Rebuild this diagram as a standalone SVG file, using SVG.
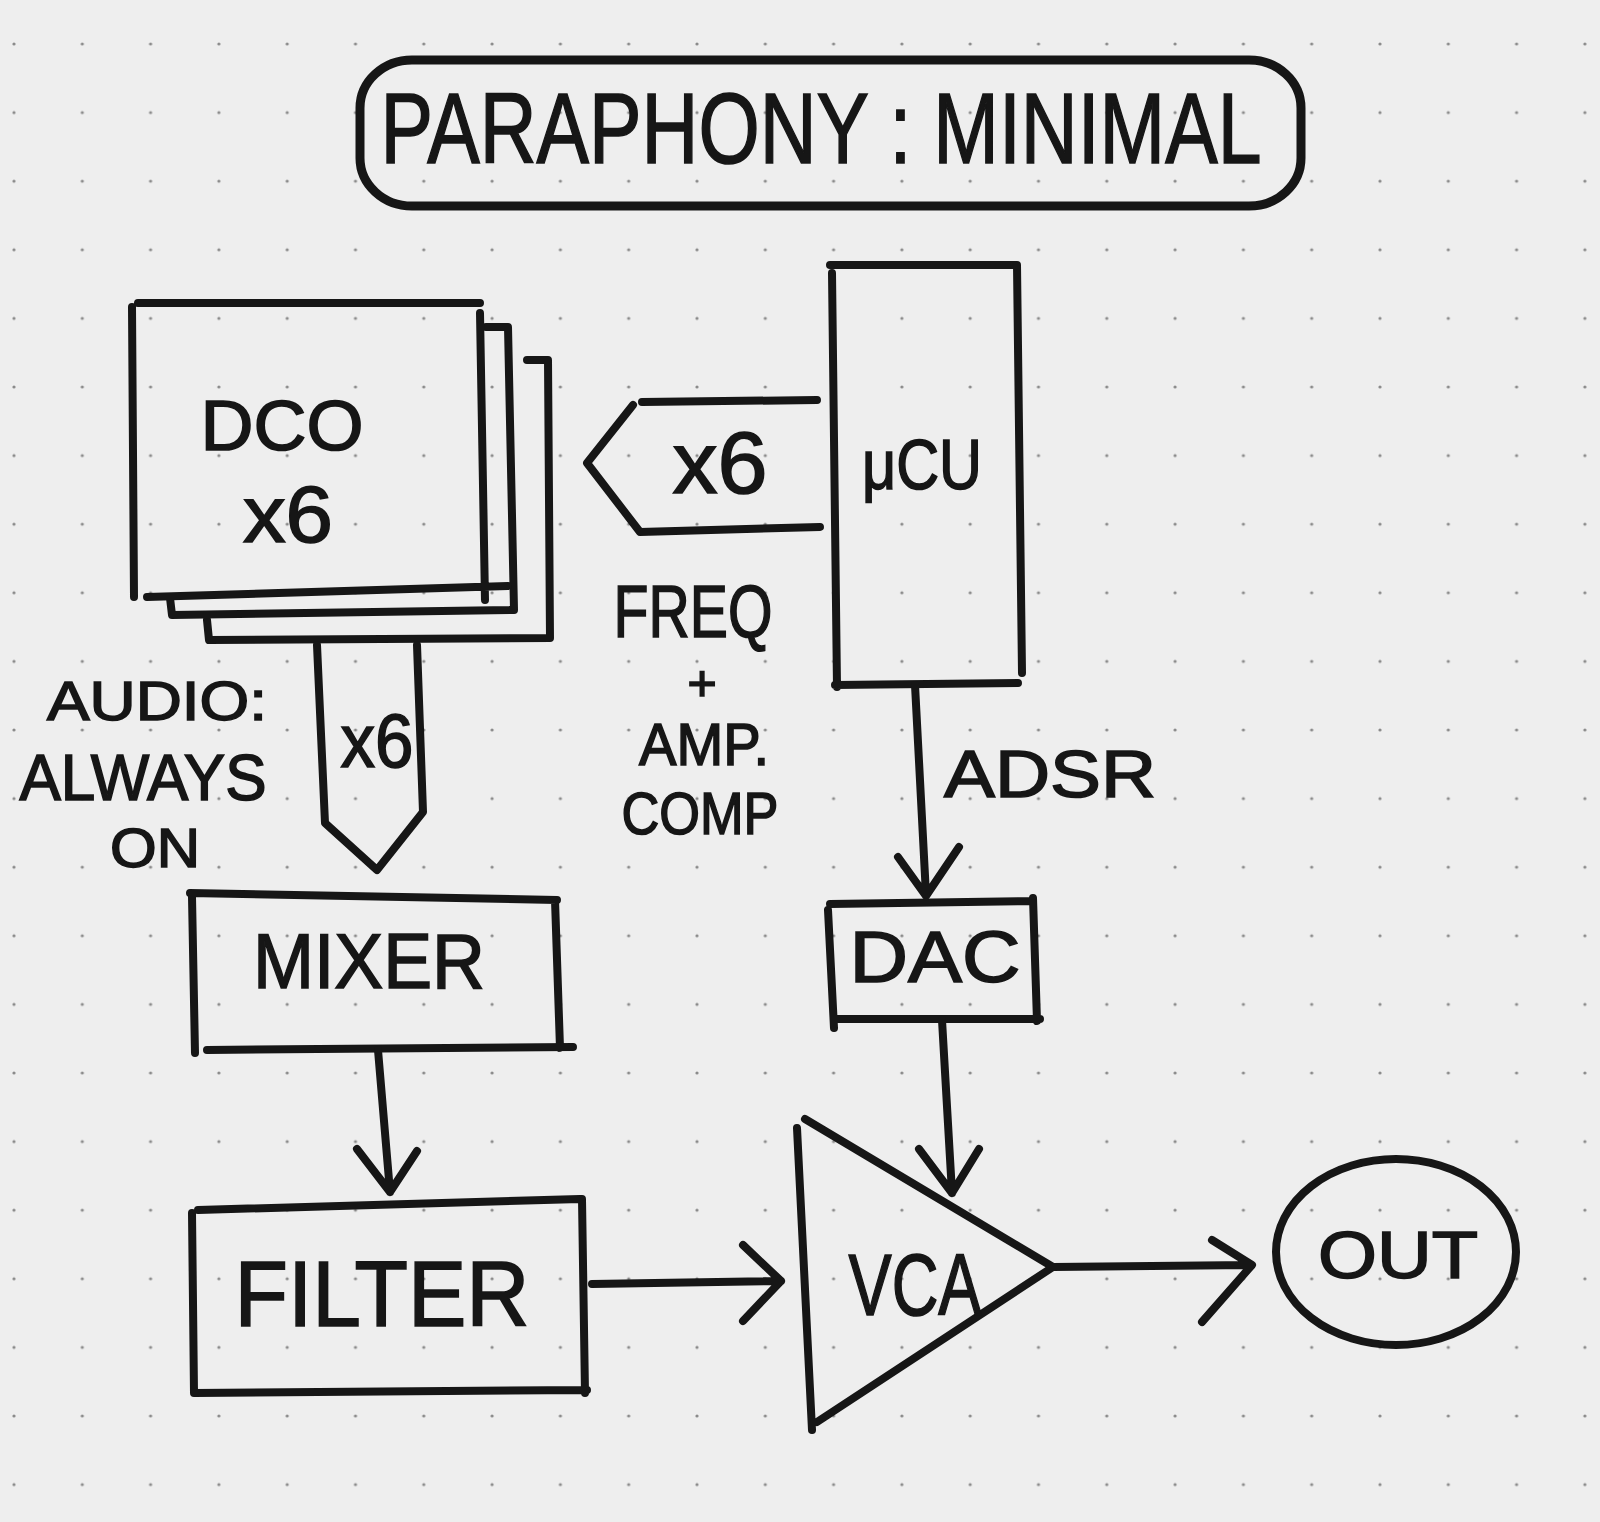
<svg xmlns="http://www.w3.org/2000/svg" width="1600" height="1522" viewBox="0 0 1600 1522">
<defs>
<pattern id="dots" x="12" y="42" width="68.3" height="68.6" patternUnits="userSpaceOnUse">
<circle cx="2" cy="2" r="1.6" fill="#8a8a8a"/>
</pattern>
<style>
.ink{fill:none;stroke:#161616;stroke-width:8;stroke-linecap:round;stroke-linejoin:round}
.txt{font-family:"Liberation Sans",Arial,sans-serif;fill:#161616;stroke:#161616;stroke-width:1.6;text-anchor:middle}
</style>
</defs>
<rect width="1600" height="1522" fill="#eeeeee"/>
<rect width="1600" height="1522" fill="url(#dots)"/>

<g id="title">
<rect class="ink" x="360" y="60" width="941" height="146" rx="52" ry="48" style="stroke-width:9"/>
<text class="txt" x="821" y="163" font-size="100" textLength="881" lengthAdjust="spacingAndGlyphs">PARAPHONY : MINIMAL</text>
</g>

<g id="dco">
<path class="ink" d="M527,360 L548,360 L550,638 L209,640 L207,620"/>
<path class="ink" d="M486,327 L508,327 L514,610 L172,615 L170,598"/>
<path class="ink" d="M138,303 L480,303 M132,307 L134,597 M480,313 L485,600 M147,597 L508,586"/>
<text class="txt" x="282" y="450" font-size="70" textLength="163" lengthAdjust="spacingAndGlyphs">DCO</text>
<text class="txt" x="288" y="542" font-size="80" textLength="90" lengthAdjust="spacingAndGlyphs">x6</text>
</g>

<g id="mcu">
<path class="ink" d="M830,265 L1017,265 M832,273 L837,687 M1017,265 L1022,673 M835,685 L1018,683"/>
<text class="txt" x="922" y="489" font-size="70" textLength="120" lengthAdjust="spacingAndGlyphs">μCU</text>
</g>

<g id="mixer">
<path class="ink" d="M190,893 L557,900 M192,897 L195,1053 M555,900 L560,1048 M207,1050 L573,1047"/>
<text class="txt" x="369" y="988" font-size="78" textLength="232" lengthAdjust="spacingAndGlyphs">MIXER</text>
</g>

<g id="filter">
<path class="ink" d="M198,1210 L580,1199 M192,1213 L194,1393 M582,1199 L585,1393 M195,1393 L587,1390"/>
<text class="txt" x="382" y="1326" font-size="92" textLength="295" lengthAdjust="spacingAndGlyphs">FILTER</text>
</g>

<g id="dac">
<path class="ink" d="M830,904 L1031,901 M828,910 L834,1028 M1033,898 L1037,1021 M837,1019 L1040,1019"/>
<text class="txt" x="935" y="982" font-size="72" textLength="171" lengthAdjust="spacingAndGlyphs">DAC</text>
</g>

<g id="vca">
<path class="ink" d="M805,1119 L1053,1267 L817,1422 M797,1128 L812,1430"/>
<text class="txt" x="915" y="1315" font-size="88" textLength="133" lengthAdjust="spacingAndGlyphs">VCA</text>
</g>

<g id="out">
<ellipse class="ink" cx="1396" cy="1252" rx="120" ry="93"/>
<text class="txt" x="1398" y="1278" font-size="66" textLength="160" lengthAdjust="spacingAndGlyphs">OUT</text>
</g>

<g id="connectors">
<path class="ink" d="M817,400 L642,402 M633,405 L587,463 L640,532 L820,527"/>
<text class="txt" x="720" y="493" font-size="88" textLength="95" lengthAdjust="spacingAndGlyphs">x6</text>
<text class="txt" x="693" y="637" font-size="75" textLength="159" lengthAdjust="spacingAndGlyphs">FREQ</text>
<text class="txt" x="702" y="700" font-size="50">+</text>
<text class="txt" x="704" y="765" font-size="60" textLength="130" lengthAdjust="spacingAndGlyphs">AMP.</text>
<text class="txt" x="700" y="834" font-size="60" textLength="157" lengthAdjust="spacingAndGlyphs">COMP</text>

<path class="ink" d="M317,645 L325,823 L377,870 L423,812 L417,645"/>
<text class="txt" x="377" y="767" font-size="76" textLength="73" lengthAdjust="spacingAndGlyphs">x6</text>
<text class="txt" x="157" y="720" font-size="56" textLength="220" lengthAdjust="spacingAndGlyphs">AUDIO:</text>
<text class="txt" x="143" y="800" font-size="64" textLength="247" lengthAdjust="spacingAndGlyphs">ALWAYS</text>
<text class="txt" x="155" y="867" font-size="56" textLength="90" lengthAdjust="spacingAndGlyphs">ON</text>

<path class="ink" d="M915,685 L926,895 M898,857 L926,896 L959,847"/>
<text class="txt" x="1050" y="797" font-size="66" textLength="212" lengthAdjust="spacingAndGlyphs">ADSR</text>

<path class="ink" d="M942,1020 L952,1193 M919,1149 L952,1193 L979,1149"/>
<path class="ink" d="M378,1050 L390,1192 M357,1149 L390,1192 L417,1151"/>
<path class="ink" d="M592,1284 L781,1281 M743,1245 L781,1281 L743,1321"/>
<path class="ink" d="M1053,1267 L1250,1265 M1212,1240 L1252,1265 L1202,1322"/>
</g>
</svg>
